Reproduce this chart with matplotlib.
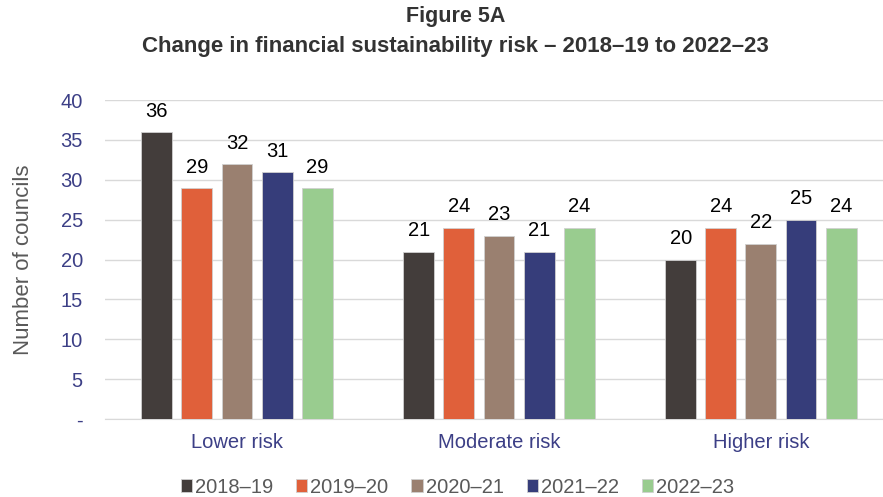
import matplotlib
matplotlib.use("Agg")
import matplotlib.pyplot as plt
import numpy as np

plt.rcParams["font.family"] = ["Liberation Sans", "DejaVu Sans"]

categories = ["Lower risk", "Moderate risk", "Higher risk"]
years = ["2018–19", "2019–20", "2020–21", "2021–22", "2022–23"]
v_2018_19 = [36, 21, 20]
v_2019_20 = [29, 24, 24]
v_2020_21 = [32, 23, 22]
v_2021_22 = [31, 21, 25]
v_2022_23 = [29, 24, 24]
series = [v_2018_19, v_2019_20, v_2020_21, v_2021_22, v_2022_23]

COLORS = ["#433d3b", "#e0603a", "#9a8070", "#363d7a", "#99cc8f"]
TICK_BLUE = "#3c3f86"

fig = plt.figure(figsize=(8.83, 4.97), dpi=100)
ax = fig.add_axes([105 / 883, 78 / 497, 778 / 883, 319 / 497])

x = np.arange(len(categories))
step, width = 0.153, 0.118
for i, (vals, lab, col) in enumerate(zip(series, years, COLORS)):
    pos = x + (i - 2) * step
    bars = ax.bar(pos, vals, width=width, color=col, label=lab,
                  edgecolor="#d0d0d0", linewidth=0.6, zorder=3)
    for b, v in zip(bars, vals):
        ax.text(b.get_x() + b.get_width() / 2, v + 1.4, str(v),
                ha="center", va="bottom", fontsize=14.5, color="black")

ax.set_xlim(-0.504, 2.466)
ax.set_ylim(0, 40)
ax.set_yticks(range(0, 41, 5))
ax.set_yticklabels(["-"] + [str(t) for t in range(5, 41, 5)])
ax.set_xticks(x)
ax.set_xticklabels(categories)
ax.tick_params(axis="y", length=0, pad=16, labelsize=14.5, labelcolor=TICK_BLUE)
ax.tick_params(axis="x", length=0, pad=10, labelsize=14.5, labelcolor=TICK_BLUE)
ax.grid(axis="y", color="#d9d9d9", linewidth=1, zorder=0)
for s in ["top", "right", "left"]:
    ax.spines[s].set_visible(False)
ax.spines["bottom"].set_color("#d9d9d9")
ax.set_ylabel("Number of councils", fontsize=16, color="#595959", labelpad=19)

fig.text(0.516, 0.966, "Figure 5A", ha="center", va="center",
         fontsize=15.5, fontweight="bold", color="#333333")
fig.text(0.516, 0.907, "Change in financial sustainability risk – 2018–19 to 2022–23",
         ha="center", va="center", fontsize=16, fontweight="bold", color="#333333")

fig.legend(loc="center", bbox_to_anchor=(0.518, 0.02),
           ncol=5, frameon=False, fontsize=14.5, handlelength=0.55, handleheight=0.55,
           handletextpad=0.15, columnspacing=1.15, labelcolor="#595959")

fig.savefig("out.png", dpi=100)
